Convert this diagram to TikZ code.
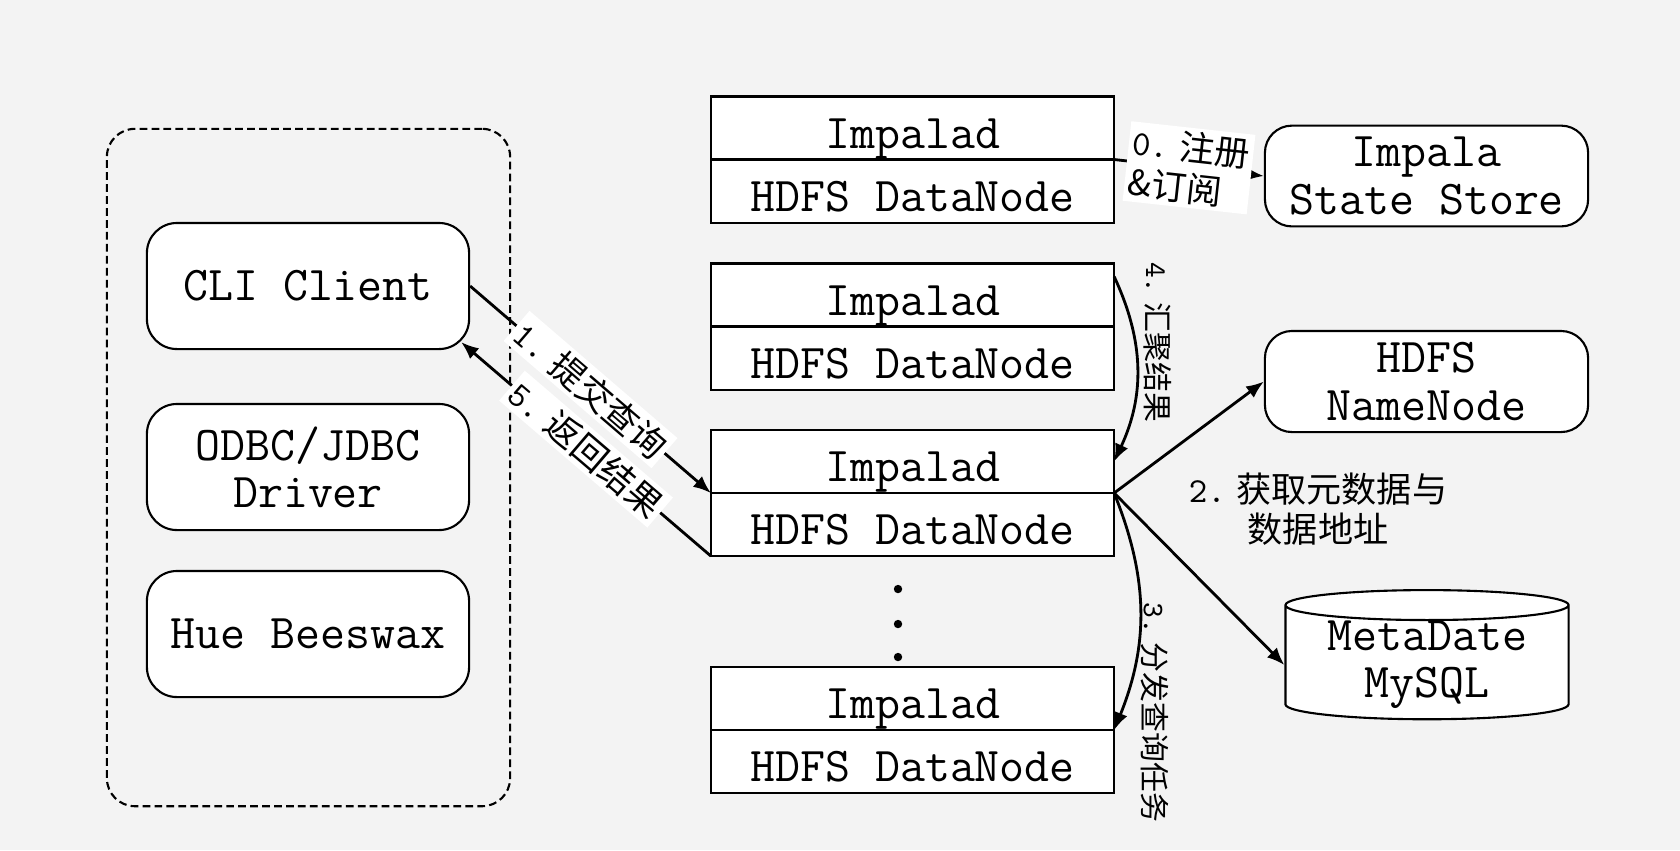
\documentclass[tikz,border=0pt]{standalone}
\usepackage{fontspec}
\newfontfamily\cjk{Noto Sans CJK SC}
\usetikzlibrary{shapes.geometric, arrows.meta, positioning, calc}
\definecolor{bggray}{HTML}{F3F3F3}

\begin{document}
\begin{tikzpicture}[x=0.01cm, y=-0.01cm,
  txt/.style={font=\ttfamily\fontsize{13.8}{13.4}\selectfont, align=center},
  client/.style={txt, rectangle, draw, fill=white, rounded corners=0.3cm, line width=0.6pt, minimum width=3.22cm, minimum height=1.26cm},
  half/.style={txt, rectangle, draw, fill=white, line width=0.6pt, minimum width=4.03cm, minimum height=0.63cm, inner sep=0pt, outer sep=0pt, text height=0.44cm, text depth=0.04cm},
  svc/.style={txt, rectangle, draw, fill=white, rounded corners=0.27cm, line width=0.6pt, minimum width=3.23cm, minimum height=0.94cm},
  conn/.style={-{Latex[length=5pt, width=4pt]}, line width=0.8pt},
  lbl/.style={font=\cjk\fontsize{10}{11.5}\selectfont, inner sep=1pt},
  vlbl/.style={font=\cjk\fontsize{8.5}{10}\selectfont, rotate=-90, inner sep=2pt}]

\fill[bggray] (0,0) rectangle (1680,850);

% clients
\node[draw, line width=0.6pt, rounded corners=0.28cm, dash pattern=on 2.2pt off 1.2pt, minimum width=4.03cm, minimum height=6.77cm] (front) at (308.5,467.5) {};
\node[client] (cli) at (308,286) {CLI Client};
\node[client] (odbc) at (308,467) {ODBC/JDBC\\Driver};
\node[client] (hue) at (308,634) {Hue Beeswax};

% impalad + datanode
\node[half] (imp1) at (912.5,128) {Impalad};
\node[half, below=0pt of imp1] (dn1) {HDFS DataNode};
\node[half] (imp2) at (912.5,295) {Impalad};
\node[half, below=0pt of imp2] (dn2) {HDFS DataNode};
\node[half] (imp3) at (912.5,461.5) {Impalad};
\node[half, below=0pt of imp3] (dn3) {HDFS DataNode};
\node[half] (imp4) at (912.5,698.5) {Impalad};
\node[half, below=0pt of imp4] (dn4) {HDFS DataNode};
\foreach \y in {589,624,657}
  \fill (898,\y) circle[radius=0.042cm];

% services
\node[svc] (store) at (1426.5,176) {Impala\\State Store};
\node[svc] (hdfs) at (1426.5,381.5) {HDFS\\NameNode};
\node[txt, cylinder, shape border rotate=90, aspect=0.14, draw, fill=white, line width=0.6pt, inner xsep=2pt, inner ysep=0pt, minimum width=2.83cm, minimum height=1.27cm] (meta) at (1427,665) {MetaDate\\MySQL};

% arrows
\draw[conn] (imp1.south east) -- node[lbl, sloped, fill=white, align=left] {{\ttfamily 0.} 注册\\\&订阅} (store.west);
\draw[conn] (cli.east) -- node[lbl, sloped, fill=white] {{\ttfamily 1.} 提交查询} (imp3.south west);
\draw[conn] (dn3.south west) -- node[lbl, sloped, fill=white] {{\ttfamily 5.} 返回结果} ($(cli.south east)+(-9,-8)$);
\draw[conn] ($(imp2.north east)+(0,13)$) to[bend left=25] node[pos=0.35, anchor=south, vlbl] {{\ttfamily 4.} 汇聚结果} (imp3.east);
\draw[conn] (imp3.south east) to[bend left=22] node[xshift=0.12cm, pos=0.93, anchor=south, vlbl] {{\ttfamily 3.} 分发查询任务} (imp4.south east);
\draw[conn] (imp3.south east) -- (hdfs.west);
\draw[conn] (imp3.south east) -- (meta.west);
\node[lbl, align=center] (step2) at (1318,509) {{\ttfamily 2.} 获取元数据与\\数据地址};

\end{tikzpicture}
\end{document}
